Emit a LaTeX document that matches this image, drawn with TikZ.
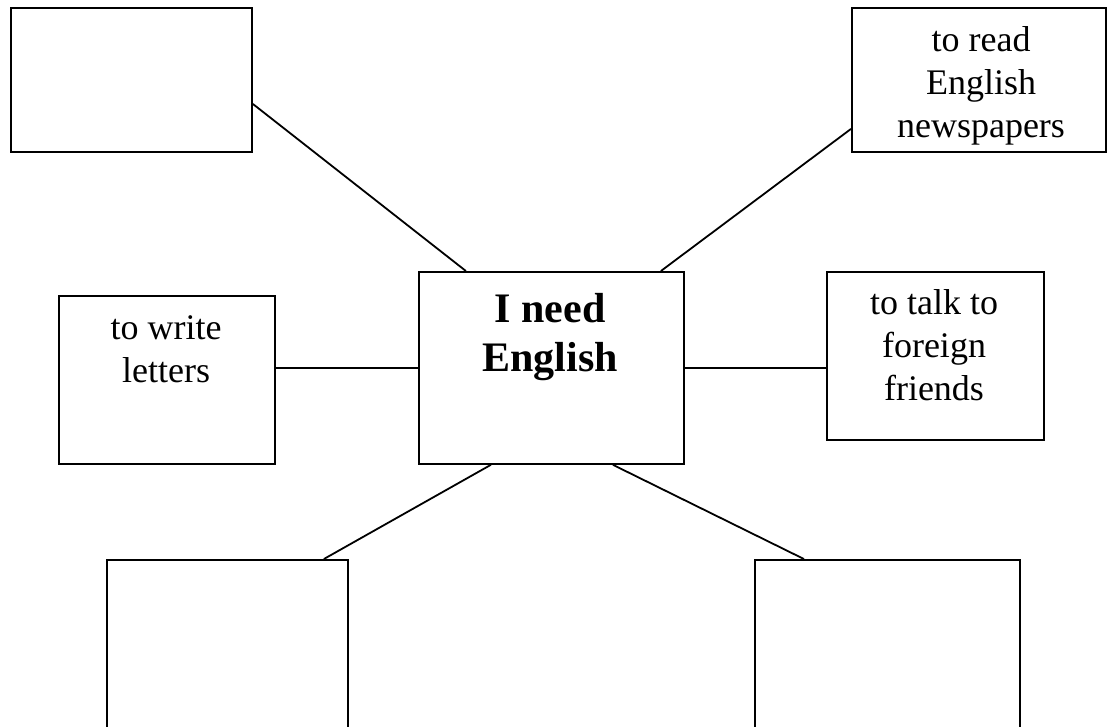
\documentclass[tikz,border=0pt]{standalone}
\usepackage{fontspec}
\setmainfont{Liberation Serif}
\begin{document}
\begin{tikzpicture}[x=1pt,y=-1pt,
  box/.style={draw, line width=1.8pt, inner sep=0pt, anchor=north west},
  txt/.style={font=\fontsize{36}{43}\selectfont, align=center, anchor=base, inner sep=0pt},
  bigtxt/.style={font=\fontsize{42}{49}\selectfont\bfseries, align=center, anchor=base, inner sep=0pt},
  conn/.style={line width=1.8pt}]
\useasboundingbox (0,0) rectangle (1107,726);
\clip (0,0) rectangle (1107,726);
% boxes
\node[box, minimum width=241pt, minimum height=144pt] (tl) at (10,7) {};
\node[box, minimum width=254pt, minimum height=144pt] (tr) at (851,7) {};
\node[box, minimum width=265pt, minimum height=192pt] (c) at (418,271) {};
\node[box, minimum width=216pt, minimum height=168pt] (l) at (58,295) {};
\node[box, minimum width=217pt, minimum height=168pt] (r) at (826,271) {};
\node[box, minimum width=241pt, minimum height=260pt] (bl) at (106,559) {};
\node[box, minimum width=265pt, minimum height=260pt] (br) at (754,559) {};
% texts (anchored at the baseline of their last line)
\node[txt] (trt) at (981,137) {to read\\English\\newspapers};
\node[bigtxt] (ct) at (550,371) {I need\\English};
\node[txt] (lt) at (166,382) {to write\\letters};
\node[txt] (rt) at (934,400) {to talk to\\foreign\\friends};
% connectors
\draw[conn] ([yshift=-24pt]tl.east) -- ([xshift=-85.5pt]c.north);
\draw[conn] ([yshift=-49pt]tr.west) -- ([xshift=109.5pt]c.north);
\draw[conn] ([yshift=12pt]l.east) -- (c.west);
\draw[conn] (c.east) -- ([yshift=-12pt]r.west);
\draw[conn] ([xshift=-60.5pt]c.south) -- ([xshift=96.5pt]bl.north);
\draw[conn] ([xshift=61.5pt]c.south) -- ([xshift=-83.5pt]br.north);
\end{tikzpicture}
\end{document}
